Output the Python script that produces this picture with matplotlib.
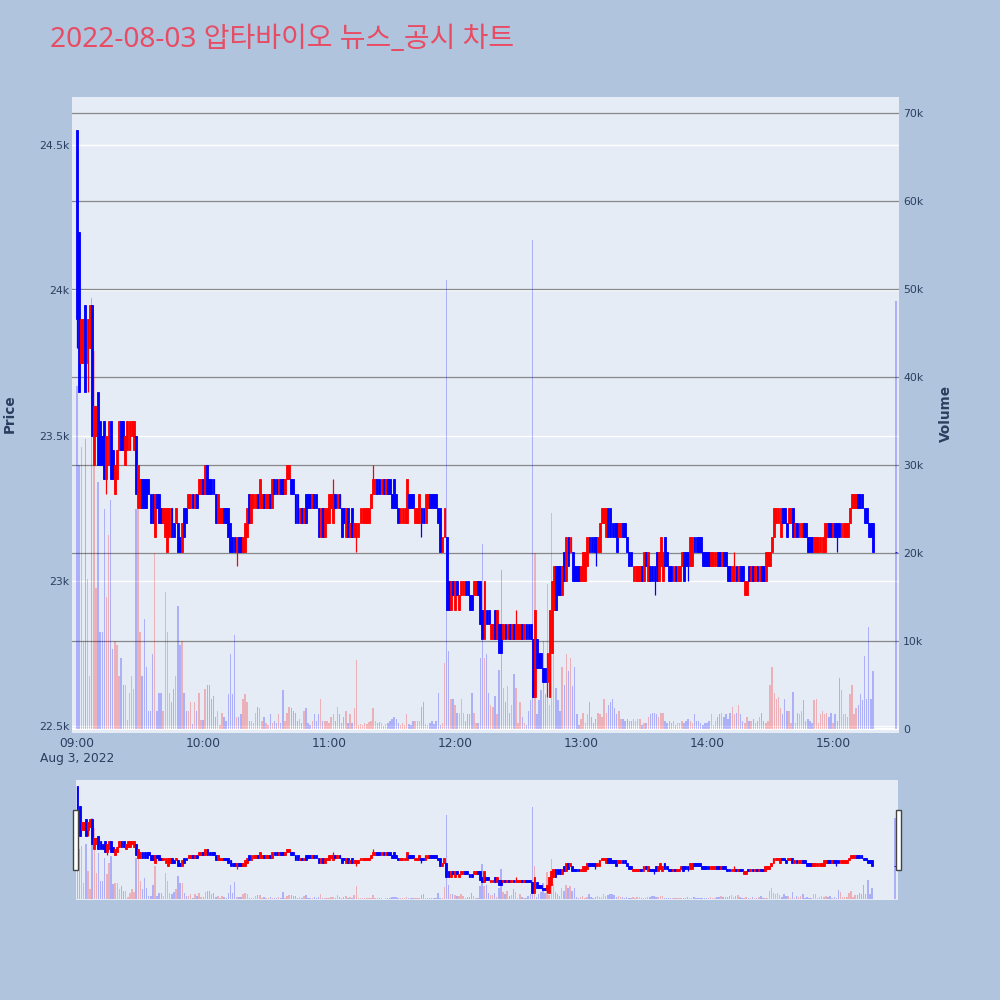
import matplotlib
matplotlib.use("Agg")
import matplotlib.pyplot as plt
from matplotlib.patches import Rectangle
from matplotlib.transforms import blended_transform_factory

TITLE = "2022-08-03 압타바이오 뉴스_공시 차트"

# prices are stored as 50-won steps above 22,500 won
PRICE_BASE = 22500
PRICE_STEP = 50

# minutes after 09:00 (last one is the 15:30 closing auction)
minutes = list(range(380)) + [390]

open_steps = [
    41, 34, 25, 25, 29, 25, 26, 29, 18, 20, 23, 21, 20, 21, 17, 18, 21, 19, 16, 17,
    19, 21, 21, 18, 19, 19, 20, 19, 20, 15, 15, 17, 17, 17, 17, 16, 16, 13, 16, 16,
    15, 14, 13, 12, 13, 15, 14, 14, 14, 13, 12, 15, 15, 15, 15, 16, 15, 16, 16, 16,
    17, 16, 18, 17,
    17, 17, 16, 14, 14, 14, 15, 15, 15, 14, 13, 13, 12, 13, 13, 12, 12, 13, 16, 14,
    15, 15, 16, 15, 15, 16, 15, 15, 16, 15, 17, 17, 16, 17, 17, 16, 17, 17, 17, 17,
    16, 16, 14, 15, 14, 16, 16, 16, 15, 16, 16, 15, 13, 15, 13, 14, 14, 15, 14, 16,
    15, 16, 15, 15, 13, 15, 13,
    15, 13, 13, 13, 14, 14, 14, 14, 14, 15, 16, 16, 17, 17, 16, 17, 16, 17, 17, 16,
    17, 16, 15, 14, 14, 14, 14, 16, 16, 16, 14, 14, 14, 15, 15, 14, 15, 16, 16, 16,
    16, 15, 15, 12, 13, 13, 10, 8, 10, 8, 10, 8, 9, 9, 10, 10, 9, 9, 9, 9,
    10, 10, 8, 6,
    8, 8, 6, 6, 8, 6, 7, 7, 6, 7, 6, 7, 6, 7, 6, 6, 6, 7, 6, 7,
    7, 7, 6, 2, 6, 5, 5, 4, 4, 3, 2, 5, 8, 11, 11, 11, 9, 12, 10, 13,
    12, 12, 11, 11, 11, 10, 10, 10, 11, 13, 13, 13, 13, 12, 12, 14, 14, 13, 15, 15,
    14, 14, 14, 13, 13,
    14, 14, 13, 12, 12, 10, 10, 10, 10, 11, 10, 12, 10, 11, 11, 11, 12, 10, 11, 10,
    13, 12, 11, 11, 10, 11, 10, 10, 11, 12, 12, 12, 11, 11, 13, 13, 13, 13, 12, 12,
    12, 12, 11, 11, 11, 12, 12, 11, 12, 12, 11, 11, 10, 10, 11, 10, 11, 11, 9, 9,
    11, 10, 11, 10, 11, 10,
    11, 11, 10, 11, 11, 12, 13, 14, 14, 13, 15, 15, 14, 14, 14, 15, 13, 14, 13, 13,
    14, 14, 13, 13, 13, 12, 12, 12, 12, 12, 12, 13, 14, 14, 13, 14, 14, 14, 13, 13,
    13, 13, 14, 15, 15, 15, 16, 16, 16, 15, 15, 14, 14, 14,
    12,
]

close_steps = [
    28, 23, 28, 28, 23, 28, 29, 20, 22, 22, 18, 18, 18, 17, 20, 21, 17, 17, 18, 19,
    21, 19, 19, 20, 21, 21, 21, 21, 16, 18, 17, 15, 15, 15, 16, 14, 14, 16, 15, 14,
    14, 15, 15, 15, 15, 13, 13, 15, 12, 12, 14, 13, 14, 16, 16, 15, 16, 15, 17, 17,
    16, 18, 16, 16,
    16, 16, 14, 16, 15, 15, 14, 14, 13, 12, 12, 12, 13, 12, 12, 13, 14, 15, 14, 16,
    16, 16, 15, 17, 16, 15, 16, 16, 15, 17, 16, 16, 17, 16, 16, 17, 18, 18, 16, 16,
    14, 14, 15, 14, 15, 14, 15, 15, 16, 15, 15, 13, 15, 13, 15, 15, 16, 16, 16, 15,
    16, 15, 13, 14, 15, 13, 14,
    13, 14, 14, 14, 15, 15, 15, 15, 15, 16, 17, 17, 16, 16, 17, 16, 17, 16, 16, 15,
    15, 15, 14, 15, 15, 15, 17, 15, 15, 15, 15, 15, 16, 14, 14, 16, 16, 15, 15, 15,
    15, 14, 12, 13, 15, 8, 8, 10, 9, 10, 9, 9, 10, 10, 9, 9, 8, 8, 10, 10,
    9, 7, 6, 10,
    7, 7, 7, 7, 6, 8, 5, 5, 7, 6, 7, 6, 7, 6, 7, 7, 7, 6, 7, 6,
    6, 6, 2, 8, 4, 4, 4, 3, 3, 5, 8, 10, 11, 8, 9, 9, 11, 10, 13, 11,
    13, 10, 10, 10, 10, 11, 12, 12, 13, 12, 12, 12, 12, 13, 14, 15, 15, 15, 13, 13,
    13, 13, 12, 14, 14,
    13, 13, 12, 11, 11, 11, 11, 11, 11, 10, 12, 11, 12, 10, 10, 10, 10, 12, 13, 12,
    11, 11, 10, 10, 11, 10, 11, 11, 12, 10, 11, 11, 13, 13, 12, 12, 12, 12, 11, 11,
    11, 11, 12, 12, 12, 11, 11, 12, 11, 11, 10, 10, 11, 11, 10, 11, 10, 10, 10, 10,
    10, 11, 10, 11, 10, 11,
    10, 10, 12, 12, 12, 13, 15, 15, 15, 15, 14, 14, 13, 15, 15, 13, 14, 13, 14, 14,
    13, 13, 12, 12, 12, 13, 13, 13, 13, 13, 14, 14, 13, 13, 14, 13, 13, 13, 14, 14,
    14, 14, 15, 16, 16, 16, 15, 15, 15, 14, 14, 13, 13, 12,
    12,
]

# wick ends that reach past the candle body (minute -> step)
high_wick_steps = {0: 41, 122: 17, 141: 18, 209: 8, 313: 12}
low_wick_steps = {0: 26, 5: 23, 14: 16, 76: 11, 133: 12, 164: 13, 224: 2,
                  247: 11, 275: 9, 291: 10, 362: 12}

# volume in thousands of shares
volume_k = [
    39, 30, 32, 10, 33, 17, 6, 49, 43, 16, 28, 11, 11, 25, 15, 22, 26, 9, 10, 9.5,
    6, 8, 5, 5, 1, 4, 6, 4.5, 25, 25, 11, 6, 12.5, 7, 2, 2, 8.5, 20, 2, 4,
    4, 2, 15.5, 11, 4, 3, 4.5, 6, 14, 9.5, 10, 4, 2, 2, 3, 0.5, 3, 2, 4, 1,
    1, 4.5, 5, 5,
    3.4, 3.7, 1.3, 2.0, 0.4, 1.8, 1.3, 0.9, 3.9, 8.5, 3.9, 10.6, 1.3, 1.3, 1.6, 3.4, 3.9, 3.0, 0.9, 0.9,
    0.65, 1.8, 2.5, 2.3, 0.9, 1.3, 0.65, 0.4, 1.6, 0.65, 0.9, 0.65, 1.6, 0.65, 4.4, 0.9, 1.8, 2.5, 2.3, 2.0,
    1.8, 0.9, 1.1, 0.65, 2.0, 2.3, 0.65, 0.4, 0.9, 1.6, 0.9, 1.6, 3.4, 0.9, 0.9, 0.9, 0.65, 1.3, 1.6, 0.9,
    2.5, 1.6, 0.65, 1.3, 2.0, 0.65, 1.6,
    0.6, 2.3, 7.8, 0.4, 0.5, 0.4, 0.6, 0.5, 0.7, 0.8, 2.3, 0.9, 0.6, 0.7, 0.6, 0.3, 0.5, 0.6, 0.9, 1.1,
    1.3, 1.1, 0.6, 0.4, 0.6, 0.4, 1.6, 0.5, 0.4, 0.9, 0.9, 0.9, 0.9, 2.5, 3.0, 0.5, 0.4, 0.6, 0.9, 0.5,
    0.8, 4.0, 0.4, 0.6, 7.4, 51, 8.8, 3.4, 3.4, 2.7, 1.8, 1.8, 3.4, 1.8, 0.9, 1.6, 1.6, 4.0, 1.8, 0.65,
    0.65, 8.0, 21, 8.0,
    8.5, 4.0, 2.7, 2.5, 3.7, 1.6, 6.7, 18, 4.6, 3.0, 4.8, 1.8, 2.7, 6.2, 4.6, 0.65, 3.0, 1.3, 0.65, 0.4,
    2.0, 3.2, 55.6, 20, 1.6, 3.2, 4.4, 10, 3.9, 16.4, 2.7, 24.5, 9, 4.6, 3.2, 2.0, 7, 5, 8.5, 6.5,
    8, 4.8, 7, 1.6, 0.4, 1.1, 1.8, 0.65, 1.6, 3.0, 1.3, 0.65, 1.1, 1.8, 1.6, 1.3, 3.4, 1.8, 2.7, 3.0,
    3.4, 2.3, 1.6, 2.0, 1.1,
    1.1, 0.9, 1.1, 0.9, 0.9, 1.1, 0.9, 1.1, 1.1, 0.4, 0.65, 0.65, 1.35, 1.6, 1.8, 1.8, 1.6, 1.35, 1.8, 1.8,
    0.9, 0.65, 0.9, 0.65, 0.9, 0.4, 0.65, 0.65, 0.9, 0.65, 0.9, 1.1, 0.9, 0.65, 1.6, 0.9, 0.9, 0.65, 0.4, 0.65,
    0.65, 0.9, 1.6, 0.4, 0.9, 1.35, 1.6, 1.8, 1.35, 1.6, 1.1, 1.8, 2.5, 1.6, 1.8, 2.7, 1.6, 0.9, 0.65, 1.35,
    0.9, 0.9, 1.1, 0.65, 0.9, 1.35,
    1.8, 0.9, 0.65, 0.9, 5.0, 7.0, 4.0, 3.4, 3.6, 2.3, 1.6, 3.4, 2.0, 2.0, 0.65, 4.1, 0.65, 1.8, 1.6, 2.0,
    3.2, 0.9, 1.1, 0.9, 0.65, 3.2, 3.4, 0.65, 1.6, 2.0, 1.6, 1.8, 1.35, 1.8, 0.65, 1.6, 0.9, 5.8, 4.4, 1.6,
    1.6, 1.35, 3.9, 5.0, 1.6, 2.3, 2.7, 3.9, 3.2, 8.3, 3.4, 11.5, 3.4, 6.5,
    48.7,
]

hour_ticks = [0, 60, 120, 180, 240, 300, 360]
hour_labels = ["09:00\nAug 3, 2022", "10:00", "11:00", "12:00", "13:00", "14:00", "15:00"]
price_ticks = [22500, 23000, 23500, 24000, 24500]
price_labels = ["22.5k", "23k", "23.5k", "24k", "24.5k"]
volume_ticks = [0, 10000, 20000, 30000, 40000, 50000, 60000, 70000]
volume_labels = ["0", "10k", "20k", "30k", "40k", "50k", "60k", "70k"]

# ---------------------------------------------------------------- derived
opens = [PRICE_BASE + PRICE_STEP * s for s in open_steps]
closes = [PRICE_BASE + PRICE_STEP * s for s in close_steps]
highs, lows = [], []
for m, o, c in zip(minutes, opens, closes):
    hi = max(o, c)
    lo = min(o, c)
    if m in high_wick_steps:
        hi = max(hi, PRICE_BASE + PRICE_STEP * high_wick_steps[m])
    if m in low_wick_steps:
        lo = min(lo, PRICE_BASE + PRICE_STEP * low_wick_steps[m])
    highs.append(hi)
    lows.append(lo)
volumes = [v * 1000 for v in volume_k]

UP = "#FF0000"
DOWN = "#0000FF"
UP_VOL = (1.0, 0.0, 0.0, 0.25)
DOWN_VOL = (0.0, 0.0, 1.0, 0.25)
cols = [UP if c > o else DOWN for o, c in zip(opens, closes)]
vcols = [UP_VOL if c > o else DOWN_VOL for o, c in zip(opens, closes)]
bottoms = [min(o, c) for o, c in zip(opens, closes)]
heights = [abs(c - o) for o, c in zip(opens, closes)]

PLOT_BG = "#E5ECF6"
PAPER_BG = "#B0C4DE"
TXT = "#2a3f5f"

PRICE_LIM = (22476, 24667)
VOL_LIM = (-510, 71930)

fig = plt.figure(figsize=(10, 10), dpi=100, facecolor=PAPER_BG)


def draw(axv, axp, body_w, wick_lw, edge_lw, vol_w):
    axv.bar(minutes, volumes, width=vol_w, color=vcols, linewidth=0, zorder=2)
    axp.vlines(minutes, lows, highs, colors=cols, linewidth=wick_lw, zorder=3)
    axp.bar(minutes, heights, bottom=bottoms, width=body_w, color=cols,
            edgecolor=cols, linewidth=edge_lw, zorder=4)


# ---------------------------------------------------------------- main chart
axv = fig.add_axes([0.072, 0.267, 0.827, 0.6365])
axv.set_facecolor(PLOT_BG)
axp = axv.twinx()
axp.patch.set_visible(False)
axv.set_xlim(-2.4, 391.4)
axv.set_ylim(*VOL_LIM)
axp.set_ylim(*PRICE_LIM)

for ax in (axv, axp):
    for s in ax.spines.values():
        s.set_visible(False)

# grid lines
ptrans = blended_transform_factory(axv.transAxes, axp.transData)
for p in price_ticks:
    axv.plot([0, 1], [p, p], transform=ptrans, color="white", linewidth=1.0, zorder=0.5)
axv.axhline(0, color="white", linewidth=1.5, zorder=0.6)
for v in volume_ticks[1:]:
    axv.axhline(v, color="#888888", linewidth=0.9, zorder=0.7)

draw(axv, axp, body_w=0.9, wick_lw=0.9, edge_lw=0.6, vol_w=0.7)

axv.yaxis.tick_right()
axv.set_yticks(volume_ticks)
axv.set_yticklabels(volume_labels)
axv.tick_params(axis="y", length=0, pad=3, labelsize=7.8, labelcolor=TXT)
axp.yaxis.tick_left()
axp.set_yticks(price_ticks)
axp.set_yticklabels(price_labels)
axp.tick_params(axis="y", length=0, pad=2, labelsize=7.8, labelcolor=TXT,
                left=True, right=False, labelleft=True, labelright=False)
axv.set_xticks(hour_ticks)
axv.set_xticklabels(hour_labels)
axv.tick_params(axis="x", length=0, pad=3, labelsize=8.8, labelcolor=TXT)
axp.tick_params(axis="x", length=0)

fig.text(0.010, 0.586, "Price", rotation=90, ha="center", va="center",
         fontsize=9.8, fontweight="bold", color=TXT)
fig.text(0.946, 0.586, "Volume", rotation=90, ha="center", va="center",
         fontsize=9.8, fontweight="bold", color=TXT)

fig.text(0.050, 0.960, TITLE, ha="left", va="center", fontsize=20.2,
         color="#E84C64", family=["Noto Sans", "Noto Sans CJK KR", "DejaVu Sans"])

# ---------------------------------------------------------------- range slider
sv = fig.add_axes([0.076, 0.100, 0.822, 0.120])
sv.set_facecolor(PLOT_BG)
sp = sv.twinx()
sp.patch.set_visible(False)
sv.set_xlim(-0.7, 391.4)
sv.set_ylim(*VOL_LIM)
sp.set_ylim(*PRICE_LIM)
for ax in (sv, sp):
    for s in ax.spines.values():
        s.set_visible(False)
    ax.set_xticks([])
    ax.set_yticks([])
draw(sv, sp, body_w=0.9, wick_lw=0.9, edge_lw=0.6, vol_w=0.7)

for hx in (0.073, 0.896):
    fig.add_artist(Rectangle((hx, 0.130), 0.0045, 0.060, transform=fig.transFigure,
                             facecolor="white", edgecolor="#444444", linewidth=1.0,
                             zorder=10))

fig.savefig("out.png", dpi=100, facecolor=PAPER_BG)
